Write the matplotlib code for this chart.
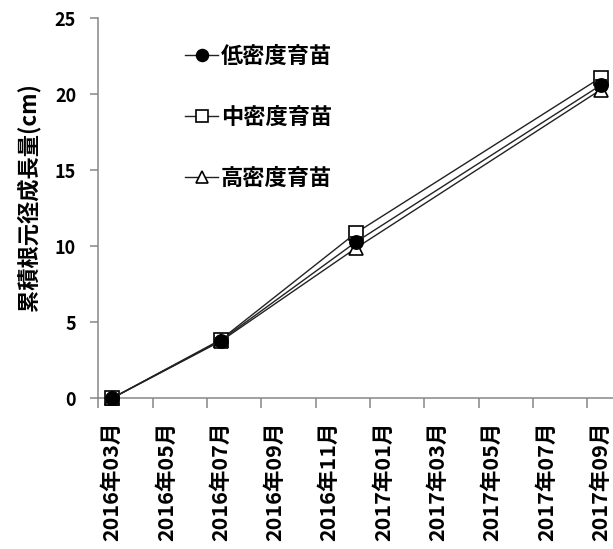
import numpy as np
import matplotlib.pyplot as plt
from matplotlib.lines import Line2D

plt.rcParams['font.family'] = ['Noto Sans CJK JP', 'DejaVu Sans']
plt.rcParams['font.weight'] = 'bold'

# data
dates = ['2016-03', '2016-07', '2016-12', '2017-09']
low = [0, 3.8, 10.3, 20.6]
mid = [0, 3.85, 10.9, 21.1]
high = [0, 3.75, 9.9, 20.3]
low_err = [0, 0.15, 0.3, 0.35]
mid_err = [0, 0.15, 0.3, 0.35]
high_err = [0, 0.15, 0.3, 0.35]
tick_labels = ['2016年03月', '2016年05月', '2016年07月', '2016年09月', '2016年11月',
               '2017年01月', '2017年03月', '2017年05月', '2017年07月', '2017年09月']
series_names = ['低密度育苗', '中密度育苗', '高密度育苗']

# months since 2016-03
def month_index(s):
    y, m = s.split('-')
    return (int(y) - 2016) * 12 + int(m) - 3

x = np.array([month_index(d) for d in dates])

fig = plt.figure(figsize=(6.13, 5.49), dpi=100)
ax = fig.add_axes([0.1604, 0.2745, 0.8396, 0.6922])

axis_col = '#868686'
line_col = '#222222'

styles = [
    (low, low_err, 'o', 'black', 5),
    (mid, mid_err, 's', 'white', 3),
    (high, high_err, '^', 'white', 4),
]
handles = []
for (vals, err, mk, fc, z), name in zip(styles, series_names):
    eb = ax.errorbar(x, vals, yerr=err, color=line_col, lw=1.0, marker=mk, ms=9.5,
                     mfc=fc, mec='black', mew=1.2, ecolor='black', elinewidth=1.2,
                     capsize=4, zorder=z)
    for art in eb.lines[0:1] + tuple(eb.lines[1]) + tuple(eb.lines[2]):
        art.set_clip_on(False)
    handles.append(Line2D([], [], color=line_col, lw=1.0, marker=mk, ms=8.5,
                          mfc=fc, mec='black', mew=1.2))

ax.set_ylim(0, 25)
ax.set_yticks([0, 5, 10, 15, 20, 25])
ax.set_xlim(-0.5, 18.45)

# labels in the middle of each 2-month band, ticks on the band edges
label_pos = np.arange(len(tick_labels)) * 2
ax.set_xticks(label_pos)
ax.set_xticklabels(tick_labels, rotation=90, fontsize=15.5)
ax.set_xticks(label_pos - 0.5, minor=True)
ax.tick_params(axis='x', which='major', length=0, pad=17)
ax.tick_params(axis='x', which='minor', length=7.5, width=1.1, color=axis_col)
ax.tick_params(axis='y', length=6, width=1.1, color=axis_col, pad=10, labelsize=13)

for sp in ['top', 'right']:
    ax.spines[sp].set_visible(False)
for sp in ['left', 'bottom']:
    ax.spines[sp].set_color(axis_col)
    ax.spines[sp].set_linewidth(1.1)

ax.set_ylabel('累積根元径成長量(cm)', fontsize=16, fontweight='bold')
ax.yaxis.set_label_coords(-0.112, 0.53)

fig.legend(handles, series_names,
           loc='upper left', bbox_to_anchor=(0.302, 0.918),
           frameon=False, fontsize=16, handlelength=1.5,
           handletextpad=0.1, labelspacing=1.7, borderpad=0,
           borderaxespad=0)

fig.savefig('out.png', dpi=100)
